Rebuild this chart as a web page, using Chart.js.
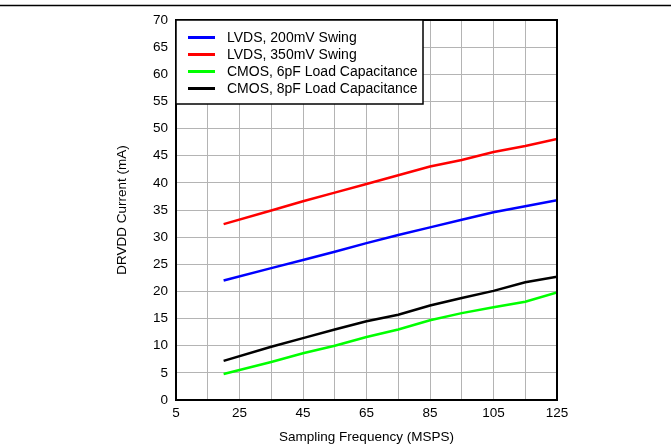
<!DOCTYPE html>
<html>
<head>
<meta charset="utf-8">
<script src="https://cdn.jsdelivr.net/npm/chart.js@4/dist/chart.umd.min.js"></script>
<style>
html,body{margin:0;padding:0;background:#fff;}
#wrap{position:relative;width:671px;height:445px;}
</style>
</head>
<body>
<div id="wrap"><canvas id="c" width="671" height="445"></canvas></div>
<script>
const freq = [20, 35, 45, 55, 65, 75, 85, 95, 105, 115, 125];
const lvds200 = [22.0, 24.3, 25.8, 27.3, 28.9, 30.4, 31.8, 33.2, 34.6, 35.7, 36.8];
const lvds350 = [32.4, 34.9, 36.6, 38.2, 39.8, 41.4, 43.0, 44.2, 45.7, 46.8, 48.1];
const cmos6 = [4.8, 7.0, 8.6, 10.0, 11.6, 13.0, 14.7, 16.0, 17.1, 18.1, 19.8];
const cmos8 = [7.2, 9.8, 11.4, 13.0, 14.5, 15.7, 17.4, 18.8, 20.1, 21.7, 22.7];
const seriesNames = ["LVDS, 200mV Swing", "LVDS, 350mV Swing", "CMOS, 6pF Load Capacitance", "CMOS, 8pF Load Capacitance"];
const xTitle = "Sampling Frequency (MSPS)";
const yTitle = "DRVDD Current (mA)";

const FONT = "Arial, 'Liberation Sans', sans-serif";
const pts = arr => freq.map((f, i) => ({x: f, y: arr[i]}));
const colors = ["#0000ff", "#ff0000", "#00ff00", "#000000"];
const seriesData = [lvds200, lvds350, cmos6, cmos8];

const framePlugin = {
  id: 'frame',
  afterDraw(chart) {
    const ctx = chart.ctx, a = chart.chartArea;
    ctx.save();
    ctx.strokeStyle = '#000';
    ctx.lineWidth = 1.5;
    ctx.beginPath(); ctx.moveTo(0, 5.5); ctx.lineTo(chart.width, 5.5); ctx.stroke();
    ctx.lineWidth = 2;
    ctx.strokeRect(a.left, a.top, a.right - a.left, a.bottom - a.top);
    const bx = a.left, by = a.top, bw = 247, bh = 84;
    ctx.fillStyle = '#fff';
    ctx.fillRect(bx, by, bw, bh);
    ctx.lineWidth = 1.5;
    ctx.strokeRect(bx, by, bw, bh);
    ctx.font = '14px ' + FONT;
    ctx.textBaseline = 'middle';
    ctx.textAlign = 'left';
    chart.data.datasets.forEach((ds, i) => {
      const y = by + 17.5 + i * 17;
      ctx.strokeStyle = ds.borderColor;
      ctx.lineWidth = 3;
      ctx.beginPath(); ctx.moveTo(bx + 12, y); ctx.lineTo(bx + 39, y); ctx.stroke();
      ctx.fillStyle = '#000';
      ctx.fillText(ds.label, bx + 51, y + 1);
    });
    ctx.restore();
  }
};

new Chart(document.getElementById('c'), {
  type: 'line',
  data: {
    datasets: seriesNames.map((n, i) => ({
      label: n,
      data: pts(seriesData[i]),
      borderColor: colors[i],
      backgroundColor: colors[i],
      borderWidth: 2.5,
      pointRadius: 0,
      tension: 0,
      fill: false
    }))
  },
  plugins: [framePlugin],
  options: {
    responsive: false,
    animation: false,
    devicePixelRatio: 1,
    layout: {padding: {left: 114, right: 114, top: 20, bottom: 0}},
    plugins: {legend: {display: false}, tooltip: {enabled: false}},
    scales: {
      x: {
        type: 'linear', min: 5, max: 125,
        afterFit(s) { s.height = 45; },
        ticks: {
          stepSize: 10, color: '#000', font: {family: FONT, size: 13.5}, padding: 5, maxRotation: 0,
          autoSkip: false,
          callback: v => ((v - 5) % 20 === 0 ? String(v) : '')
        },
        grid: {color: '#b4b4b4', lineWidth: 1, drawTicks: false},
        border: {display: false},
        title: {display: true, text: xTitle, color: '#000', font: {family: FONT, size: 13.5}, padding: {top: 1, bottom: 0}}
      },
      y: {
        min: 0, max: 70,
        afterFit(s) { s.width = 62; },
        ticks: {stepSize: 5, color: '#000', font: {family: FONT, size: 13.5}, padding: 8},
        grid: {color: '#b4b4b4', lineWidth: 1, drawTicks: false},
        border: {display: false},
        title: {display: true, text: yTitle, color: '#000', font: {family: FONT, size: 13.5}, padding: {top: 0, bottom: 0}}
      }
    }
  }
});
</script>
</body>
</html>
